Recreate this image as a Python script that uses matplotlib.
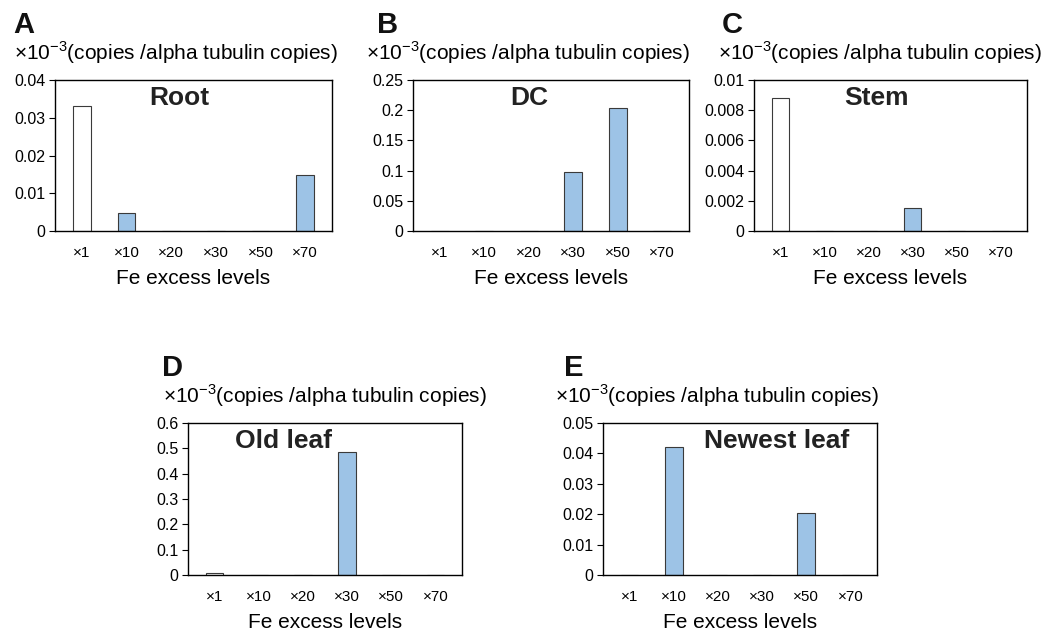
import matplotlib.pyplot as plt
import numpy as np

plt.rcParams['font.family'] = ['Liberation Sans', 'DejaVu Sans']
plt.rcParams['mathtext.fontset'] = 'custom'
plt.rcParams['mathtext.rm'] = 'Liberation Sans'

# Данные
levels = ['×1', '×10', '×20', '×30', '×50', '×70']
root = [0.0332, 0.0048, 0, 0, 0, 0.0149]
dc = [0, 0, 0, 0.097, 0.203, 0]
stem = [0.0088, 0, 0, 0.0015, 0, 0]
old_leaf = [0.006, 0, 0, 0.487, 0, 0]
newest_leaf = [0, 0.042, 0, 0, 0.0205, 0]

W, H = 1053, 637
fig = plt.figure(figsize=(W / 100, H / 100), dpi=100)

# letter, title, data, ymax, ystep, axes box (px: left, top, right, bottom), title x, letter x, label x
panels = [
    ('A', 'Root', root, 0.04, 0.01, (55, 80, 332, 231), 0.45, 13, 14),
    ('B', 'DC', dc, 0.25, 0.05, (413, 80, 689, 231), 0.42, 377, 366),
    ('C', 'Stem', stem, 0.01, 0.002, (754, 80, 1027, 231), 0.45, 722, 718),
    ('D', 'Old leaf', old_leaf, 0.6, 0.1, (188, 423, 462, 575), 0.35, 162, 163),
    ('E', 'Newest leaf', newest_leaf, 0.05, 0.01, (603, 423, 877, 575), 0.635, 564, 555),
]

x = np.arange(len(levels))
for letter, title, vals, ymax, ystep, (l, t, r, b), tx, lx, labx in panels:
    ax = fig.add_axes([l / W, 1 - b / H, (r - l) / W, (b - t) / H])
    colors = ['white'] + ['#9dc3e6'] * (len(levels) - 1)
    ax.bar(x, vals, width=0.4, color=colors, edgecolor='#3a3a3a', linewidth=0.8)
    ax.set_xlim(-0.6, len(levels) - 0.4)
    ax.set_ylim(0, ymax)
    ticks = np.arange(0, ymax + ystep / 2, ystep)
    ax.set_yticks(ticks)
    ax.set_yticklabels([f'{v:g}' for v in ticks])
    ax.set_xticks(x)
    ax.set_xticklabels(levels, fontsize=11)
    ax.tick_params(axis='x', length=0, pad=11)
    ax.tick_params(axis='y', length=4, width=0.8, labelsize=11.5, pad=3)
    for s in ax.spines.values():
        s.set_linewidth(1.0)
    ax.set_xlabel('Fe excess levels', fontsize=15, labelpad=6)
    ax.text(tx, 0.88, title, transform=ax.transAxes, ha='center', va='center',
            fontsize=19, fontweight='bold', color='#222222')
    fig.text(lx / W, 1 - (t - 69) / H, letter, fontsize=21, fontweight='bold',
             ha='left', va='top', color='#111111')
    fig.text(labx / W, 1 - (t - 20) / H, r'×10$^{\mathregular{-3}}$(copies /alpha tubulin copies)',
             fontsize=15, ha='left', va='baseline')

plt.savefig('out.png', dpi=100)
